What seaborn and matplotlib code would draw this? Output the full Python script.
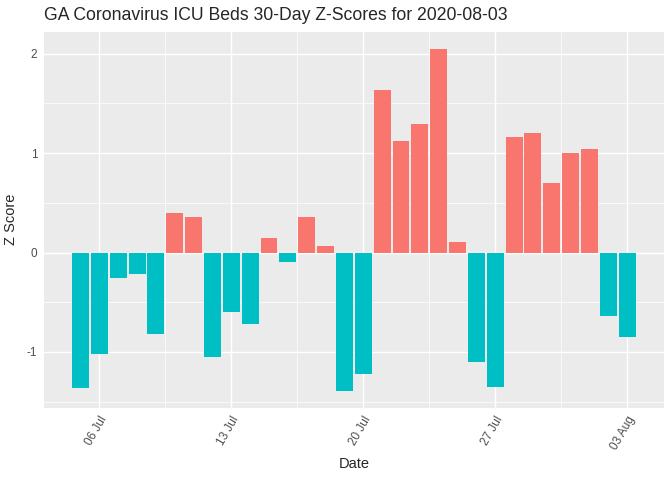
import numpy as np
import pandas as pd
import matplotlib.pyplot as plt
import seaborn as sns

# данные: z-оценки по дням (05 Jul - 03 Aug 2020)
dates = pd.date_range('2020-07-05', '2020-08-03', freq='D')
z_scores = [-1.36, -1.02, -0.26, -0.22, -0.82, 0.40, 0.36, -1.05, -0.60, -0.72,
            0.15, -0.10, 0.36, 0.07, -1.39, -1.22, 1.63, 1.12, 1.29, 2.05,
            0.11, -1.10, -1.35, 1.16, 1.20, 0.70, 1.00, 1.04, -0.64, -0.85]
tick_dates = ['2020-07-06', '2020-07-13', '2020-07-20', '2020-07-27', '2020-08-03']
tick_labels = ['06 Jul', '13 Jul', '20 Jul', '27 Jul', '03 Aug']

df = pd.DataFrame({'date': dates, 'z': z_scores})
df['idx'] = np.arange(len(df))
df['sign'] = np.where(df['z'] > 0, 'pos', 'neg')

sns.set_theme(style='darkgrid', rc={
    'axes.facecolor': '#EBEBEB',
    'grid.color': 'white',
    'grid.linewidth': 1.07,
    'axes.edgecolor': '#EBEBEB',
})
plt.rcParams['font.family'] = ['Liberation Sans', 'DejaVu Sans']

W, H = 672, 480
fig = plt.figure(figsize=(7, 5), dpi=96)
left, right, top, bottom = 43.7, 664, 31.7, 407.7
ax = fig.add_axes([left / W, 1 - bottom / H, (right - left) / W, (bottom - top) / H])

sns.barplot(data=df, x='idx', y='z', hue='sign',
            palette={'pos': '#F8766D', 'neg': '#00BFC4'},
            width=0.9, dodge=False, saturation=1, errorbar=None,
            legend=False, ax=ax, zorder=3, linewidth=0, edgecolor='none')

tick_pos = [int(df.index[df['date'] == pd.Timestamp(d)][0]) for d in tick_dates]
ax.set_xticks(tick_pos)
ax.set_xticklabels(tick_labels)
ax.set_xticks([(a + b) / 2 for a, b in zip(tick_pos[:-1], tick_pos[1:])], minor=True)
ax.set_xlim(-1.95, len(df) - 1 + 1.95)

ax.set_yticks([-1, 0, 1, 2])
ax.set_yticklabels(['-1', '0', '1', '2'])
ax.set_yticks([-1.5, -0.5, 0.5, 1.5], minor=True)
ax.set_ylim(-1.56, 2.22)

ax.set_axisbelow(True)
ax.grid(True, which='major', color='white', linewidth=1.07)
ax.grid(True, which='minor', color='white', linewidth=0.53)
for s in ax.spines.values():
    s.set_visible(False)

ax.tick_params(axis='both', which='major', length=2.75, width=0.8, color='#333333',
               labelsize=8.8, labelcolor='#4D4D4D', pad=2)
ax.tick_params(axis='both', which='minor', length=0)
plt.setp(ax.get_xticklabels(), rotation=60, ha='right', rotation_mode='anchor')

ax.set_xlabel('')
ax.set_ylabel('')
fig.text((left + right) / 2 / W, 1 - 464 / H, 'Date', ha='center', va='center', fontsize=11)
fig.text(11 / W, 1 - (top + bottom) / 2 / H, 'Z Score', ha='center', va='center',
         rotation=90, fontsize=11)
fig.text(left / W, 1 - 15 / H, 'GA Coronavirus ICU Beds 30-Day Z-Scores for 2020-08-03',
         ha='left', va='center', fontsize=13.2)

fig.savefig('out.png', dpi=96)
